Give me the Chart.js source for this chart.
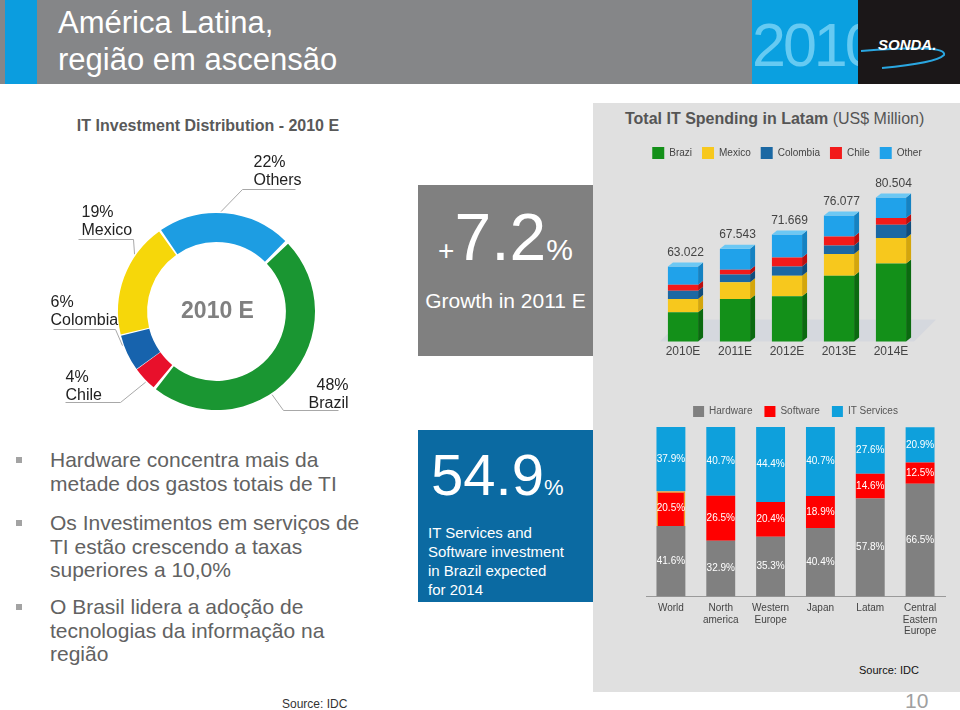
<!DOCTYPE html>
<html>
<head>
<meta charset="utf-8">
<script src="https://cdn.jsdelivr.net/npm/chart.js@4.4.0/dist/chart.umd.min.js"></script>
<style>
  html, body { margin: 0; padding: 0; }
  body { width: 960px; height: 710px; position: relative; overflow: hidden; background: #fff;
         font-family: "Liberation Sans", Arial, sans-serif; }
  .abs { position: absolute; white-space: nowrap; }
  canvas { position: absolute; }
  .bullet { position: absolute; left: 16px; width: 6px; height: 6px; background: #a3a3a3; }
  .para { position: absolute; left: 50px; font-size: 21px; line-height: 23.6px; color: #626262; white-space: nowrap; }
</style>
</head>
<body>
<!-- header -->
<div class="abs" style="left:0;top:0;width:960px;height:84px;background:#858688"></div>
<div class="abs" style="left:5px;top:0;width:32px;height:84px;background:#0b9ddf"></div>
<div class="abs" style="left:58px;top:4px;font-size:31px;line-height:37px;color:#fff">América Latina,<br>região em ascensão</div>
<div class="abs" style="left:752px;top:0;width:106px;height:84px;background:#0aa0e0;overflow:hidden">
  <div style="position:absolute;left:0;top:15px;font-size:61px;line-height:1;color:#66caf2;letter-spacing:-3px">2010</div>
</div>
<div class="abs" style="left:858px;top:0;width:102px;height:84px;background:#1b1718"></div>
<svg class="abs" style="left:0;top:0" width="960" height="84">
  <path d="M861 51 Q948 44 944 55 Q936 63 882 68" fill="none" stroke="#2aa6e0" stroke-width="2"/>
</svg>
<div class="abs" style="left:878px;top:37px;font-size:15px;line-height:1;color:#fff;font-weight:bold;font-style:italic">SONDA.</div>

<!-- left column -->
<div class="abs" style="left:0;top:118px;width:416px;text-align:center;font-size:16px;line-height:1;font-weight:bold;color:#595959">IT Investment Distribution - 2010 E</div>
<canvas id="shareChart" width="420" height="320" style="left:0;top:100px"></canvas>

<div class="bullet" style="top:457px"></div>
<div class="para" style="top:448px">Hardware concentra mais da<br>metade dos gastos totais de TI</div>
<div class="bullet" style="top:520px"></div>
<div class="para" style="top:511px">Os Investimentos em serviços de<br>TI estão crescendo a taxas<br>superiores a 10,0%</div>
<div class="bullet" style="top:604px"></div>
<div class="para" style="top:595px">O Brasil lidera a adoção de<br>tecnologias da informação na<br>região</div>
<div class="abs" style="left:282px;top:698px;font-size:12px;line-height:1;color:#333">Source: IDC</div>

<!-- middle boxes -->
<div class="abs" style="left:418px;top:185px;width:175px;height:171px;background:#808080;color:#fff">
  <div style="position:absolute;left:0;top:19px;width:175px;text-align:center;font-size:66px;line-height:1"><span style="font-size:28px">+</span>7.2<span style="font-size:30px">%</span></div>
  <div style="position:absolute;left:0;top:105px;width:175px;text-align:center;font-size:21px;line-height:1">Growth in 2011 E</div>
</div>
<div class="abs" style="left:418px;top:430px;width:175px;height:172px;background:#0b6aa2;color:#fff">
  <div style="position:absolute;left:13px;top:16px;font-size:58px;line-height:1">54.9<span style="font-size:22px">%</span></div>
  <div style="position:absolute;left:10px;top:93px;font-size:15px;line-height:19px">IT Services and<br>Software investment<br>in Brazil expected<br>for 2014</div>
</div>

<!-- right panel -->
<div class="abs" style="left:593px;top:103px;width:367px;height:589px;background:#e0e0e0"></div>
<div class="abs" style="left:625px;top:111px;font-size:16px;line-height:1;color:#555"><b>Total IT Spending in Latam</b> (US$ Million)</div>
<canvas id="latamChart" width="367" height="232" style="left:593px;top:130px"></canvas>
<canvas id="mixChart" width="367" height="249" style="left:593px;top:394px"></canvas>
<div class="abs" style="left:859px;top:665px;font-size:11px;line-height:1;color:#111">Source: IDC</div>
<div class="abs" style="left:905px;top:690px;font-size:21px;line-height:1;color:#a0a0a0">10</div>

<script>
// IT investment distribution 2010 E (share %)
const countries = ['Brazil', 'Chile', 'Colombia', 'Mexico', 'Others'];
const shares = [48, 4, 6, 19, 22];
const centerText = '2010 E';

// Total IT spending in Latam (US$ million), stacked segments
const years = ['2010E', '2011E', '2012E', '2013E', '2014E'];
const brazil = [51.4, 54.8, 55.5, 60.7, 63.8];
const mexico = [3.4, 4.2, 5.2, 5.5, 6.4];
const colombia = [2.1, 2.0, 2.3, 2.1, 3.4];
const chile = [1.5, 1.2, 2.3, 2.3, 1.7];
const other = [4.6, 5.3, 5.8, 5.3, 5.2];
const totals = [63.022, 67.543, 71.669, 76.077, 80.504];

// IT spending mix by region (%)
const regions = ['World', ['North', 'america'], ['Western', 'Europe'], 'Japan', 'Latam', ['Central', 'Eastern', 'Europe']];
const hardware = [41.6, 32.9, 35.3, 40.4, 57.8, 66.5];
const software = [20.5, 26.5, 20.4, 18.9, 14.6, 12.5];
const itServices = [37.9, 40.7, 44.4, 40.7, 27.6, 20.9];

Chart.defaults.font.family = '"Liberation Sans", Arial, sans-serif';
Chart.defaults.animation = false;

// where the ring labels sit, relative to the ring centre
const ringLayout = [
  { at: 0.58, tx: 132, ty: 74, align: 'right', elbow: [67, 99], end: [122, 99] },
  { at: 0.38, tx: -151, ty: 66, align: 'left', elbow: [-96, 91], end: [-151, 91] },
  { at: 0.73, tx: -166, ty: -9, align: 'left', elbow: [-101, 18], end: [-163, 18] },
  { at: 0.71, tx: -135, ty: -99, align: 'left', elbow: [-83, -72], end: [-138, -72] },
  { at: 0.47, tx: 37, ty: -149, align: 'left', elbow: [26, -122], end: [79, -122] }
];

const ringLabels = {
  id: 'ringLabels',
  afterDraw(chart) {
    const ctx = chart.ctx;
    const arcs = chart.getDatasetMeta(0).data;
    ctx.save();
    arcs.forEach((arc, i) => {
      const p = arc.getProps(['x', 'y', 'startAngle', 'endAngle', 'outerRadius'], true);
      const lay = ringLayout[i];
      const a = p.startAngle + lay.at * (p.endAngle - p.startAngle);
      const r = p.outerRadius + 3;
      ctx.strokeStyle = '#a8a8a8';
      ctx.lineWidth = 1;
      ctx.beginPath();
      ctx.moveTo(p.x + r * Math.cos(a), p.y + r * Math.sin(a));
      ctx.lineTo(p.x + lay.elbow[0], p.y + lay.elbow[1]);
      ctx.lineTo(p.x + lay.end[0], p.y + lay.end[1]);
      ctx.stroke();
      ctx.fillStyle = '#222';
      ctx.font = '16px "Liberation Sans", Arial';
      ctx.textAlign = lay.align;
      ctx.textBaseline = 'middle';
      ctx.fillText(shares[i] + '%', p.x + lay.tx, p.y + lay.ty);
      ctx.fillText(countries[i], p.x + lay.tx, p.y + lay.ty + 18);
    });
    const c = arcs[0].getProps(['x', 'y'], true);
    ctx.font = 'bold 23px "Liberation Sans", Arial';
    ctx.fillStyle = '#808080';
    ctx.textAlign = 'center';
    ctx.textBaseline = 'middle';
    ctx.fillText(centerText, c.x + 1, c.y);
    ctx.restore();
  }
};

new Chart(document.getElementById('shareChart'), {
  type: 'doughnut',
  data: {
    labels: countries,
    datasets: [{
      data: shares,
      backgroundColor: ['#1a9632', '#e8102b', '#1763ad', '#f6d70a', '#1d9de2'],
      borderWidth: 0,
      spacing: 3
    }]
  },
  options: {
    responsive: false,
    rotation: 45,
    cutout: '70%',
    layout: { padding: { left: 118, top: 113, right: 105, bottom: 10 } },
    plugins: { legend: { display: false }, tooltip: { enabled: false } }
  },
  plugins: [ringLabels]
});

// fake 3D sides, floor and totals for the Latam bars
const bars3d = {
  id: 'bars3d',
  beforeDatasetsDraw(chart) {
    const ctx = chart.ctx;
    const bars = chart.getDatasetMeta(0).data;
    const first = bars[0], last = bars[bars.length - 1];
    const base = chart.chartArea.bottom;
    const l = first.x - first.width / 2 - 8, r = last.x + last.width / 2 + 8;
    ctx.save();
    ctx.fillStyle = '#d5d8de';
    ctx.beginPath();
    ctx.moveTo(l, base);
    ctx.lineTo(r, base);
    ctx.lineTo(r + 22, base - 22);
    ctx.lineTo(l + 22, base - 22);
    ctx.closePath();
    ctx.fill();
    ctx.restore();
  },
  afterDatasetsDraw(chart) {
    const ctx = chart.ctx;
    const d = 5, h = 4;
    const bottom = chart.chartArea.bottom;
    const n = chart.data.datasets.length;
    ctx.save();
    chart.data.datasets.forEach((ds, di) => {
      chart.getDatasetMeta(di).data.forEach((bar) => {
        const p = bar.getProps(['x', 'y', 'base', 'width'], true);
        const left = p.x - p.width / 2, right = p.x + p.width / 2;
        const base = Math.min(p.base, bottom);
        ctx.fillStyle = ds.sideColor;
        ctx.beginPath();
        ctx.moveTo(right, p.y);
        ctx.lineTo(right + d, p.y - h);
        ctx.lineTo(right + d, base - h);
        ctx.lineTo(right, base);
        ctx.closePath();
        ctx.fill();
        if (di === n - 1) {
          ctx.fillStyle = ds.topColor;
          ctx.beginPath();
          ctx.moveTo(left, p.y);
          ctx.lineTo(left + d, p.y - h);
          ctx.lineTo(right + d, p.y - h);
          ctx.lineTo(right, p.y);
          ctx.closePath();
          ctx.fill();
        }
      });
    });
    const tops = chart.getDatasetMeta(n - 1).data;
    ctx.font = '12px "Liberation Sans", Arial';
    ctx.fillStyle = '#444';
    ctx.textAlign = 'center';
    ctx.textBaseline = 'middle';
    tops.forEach((bar, i) => {
      ctx.fillText(totals[i].toFixed(3), bar.x + d / 2, bar.y - h - 10);
    });
    ctx.restore();
  }
};

const sideAxis = (pos, w) => ({
  type: 'linear',
  position: pos,
  display: true,
  ticks: { display: false },
  grid: { display: false, drawTicks: false },
  border: { display: false },
  afterFit(scale) { scale.width = w; }
});

new Chart(document.getElementById('latamChart'), {
  type: 'bar',
  data: {
    labels: years,
    datasets: [
      { label: 'Brazi', data: brazil, backgroundColor: '#139019', sideColor: '#0b6a10' },
      { label: 'Mexico', data: mexico, backgroundColor: '#f7c81d', sideColor: '#d4a60c' },
      { label: 'Colombia', data: colombia, backgroundColor: '#1b68a3', sideColor: '#114d7c' },
      { label: 'Chile', data: chile, backgroundColor: '#f21a1a', sideColor: '#bb0f0f' },
      { label: 'Other', data: other, backgroundColor: '#20a2ea', sideColor: '#1582c2', topColor: '#6cc8f4' }
    ]
  },
  options: {
    responsive: false,
    layout: { padding: { left: 44, right: 23, top: 7, bottom: 0 } },
    datasets: { bar: { barPercentage: 0.58, categoryPercentage: 1 } },
    scales: {
      x: {
        stacked: true,
        grid: { display: false, drawTicks: false },
        border: { display: false },
        ticks: { color: '#444', font: { size: 12 }, padding: 3 }
      },
      y: Object.assign(sideAxis('left', 20), { stacked: true, min: 44, max: 87.7 }),
      yRight: sideAxis('right', 20)
    },
    plugins: {
      legend: {
        labels: { boxWidth: 12, boxHeight: 12, padding: 10, color: '#444', font: { size: 10 } }
      },
      tooltip: { enabled: false }
    }
  },
  plugins: [bars3d]
});

const segLabels = {
  id: 'segLabels',
  afterDatasetsDraw(chart) {
    const ctx = chart.ctx;
    ctx.save();
    ctx.font = '10px "Liberation Sans", Arial';
    ctx.fillStyle = '#fff';
    ctx.textAlign = 'center';
    ctx.textBaseline = 'middle';
    chart.data.datasets.forEach((ds, di) => {
      chart.getDatasetMeta(di).data.forEach((bar, i) => {
        const p = bar.getProps(['x', 'y', 'base'], true);
        ctx.fillText(ds.data[i].toFixed(1) + '%', p.x, (p.y + p.base) / 2);
      });
    });
    ctx.restore();
  }
};

const clear = 'rgba(0,0,0,0)';

new Chart(document.getElementById('mixChart'), {
  type: 'bar',
  data: {
    labels: regions,
    datasets: [
      { label: 'Hardware', data: hardware, backgroundColor: '#808080' },
      {
        label: 'Software', data: software, backgroundColor: '#ff0000',
        borderColor: ['#f7941d', clear, clear, clear, clear, clear],
        borderWidth: [1.5, 0, 0, 0, 0, 0]
      },
      { label: 'IT Services', data: itServices, backgroundColor: '#0ea0dc' }
    ]
  },
  options: {
    responsive: false,
    layout: { padding: { left: 53, right: 15, top: 0, bottom: 0 } },
    datasets: { bar: { barPercentage: 0.58, categoryPercentage: 1 } },
    scales: {
      x: {
        stacked: true,
        grid: { display: true, drawOnChartArea: false, drawTicks: false, color: clear },
        border: { display: true, color: '#9a9a9a', width: 1 },
        ticks: { color: '#444', font: { size: 10, lineHeight: 1.15 }, padding: 6 }
      },
      y: { stacked: true, display: false, min: 0, max: 100 }
    },
    plugins: {
      legend: {
        labels: {
          boxWidth: 11, boxHeight: 11, padding: 12, color: '#555', font: { size: 10 },
          generateLabels(chart) {
            return Chart.defaults.plugins.legend.labels.generateLabels(chart).map((item) => {
              item.lineWidth = 0;
              item.strokeStyle = clear;
              return item;
            });
          }
        }
      },
      tooltip: { enabled: false }
    }
  },
  plugins: [segLabels]
});
</script>
</body>
</html>
